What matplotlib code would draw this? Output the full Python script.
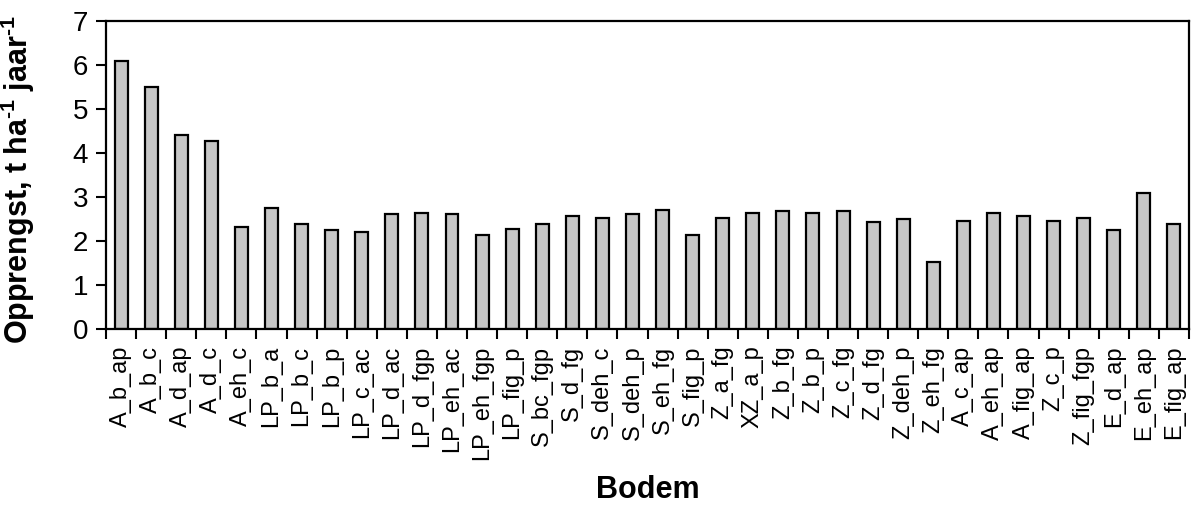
import matplotlib
matplotlib.use("Agg")
import matplotlib.pyplot as plt
import numpy as np

plt.rcParams['font.family'] = ['Liberation Sans', 'DejaVu Sans']
plt.rcParams['mathtext.fontset'] = 'custom'
plt.rcParams['mathtext.rm'] = 'Liberation Sans'
plt.rcParams['mathtext.bf'] = 'Liberation Sans:bold'

bodem = ['A_b_ap', 'A_b_c', 'A_d_ap', 'A_d_c', 'A_eh_c', 'LP_b_a', 'LP_b_c',
         'LP_b_p', 'LP_c_ac', 'LP_d_ac', 'LP_d_fgp', 'LP_eh_ac', 'LP_eh_fgp',
         'LP_fig_p', 'S_bc_fgp', 'S_d_fg', 'S_deh_c', 'S_deh_p', 'S_eh_fg',
         'S_fig_p', 'Z_a_fg', 'XZ_a_p', 'Z_b_fg', 'Z_b_p', 'Z_c_fg', 'Z_d_fg',
         'Z_deh_p', 'Z_eh_fg', 'A_c_ap', 'A_eh_ap', 'A_fig_ap', 'Z_c_p',
         'Z_fig_fgp', 'E_d_ap', 'E_eh_ap', 'E_fig_ap']
opbrengst = [6.09, 5.51, 4.42, 4.28, 2.32, 2.76, 2.39, 2.26, 2.21, 2.61,
             2.64, 2.61, 2.14, 2.28, 2.39, 2.57, 2.53, 2.61, 2.71, 2.14,
             2.53, 2.64, 2.68, 2.64, 2.68, 2.43, 2.50, 1.52, 2.46, 2.64,
             2.57, 2.46, 2.53, 2.24, 3.08, 2.39]

fig = plt.figure(figsize=(11.94, 5.08), dpi=100)
ax = fig.add_axes([0.0888, 0.3524, 0.907, 0.6063])

x = np.arange(len(bodem))
ax.bar(x, opbrengst, width=0.43, color='#c6c6c6', edgecolor='black', linewidth=1.6)

ax.set_xlim(-0.5, len(bodem) - 0.5)
ax.set_ylim(0, 7)
ax.set_yticks(range(0, 8))

# labels on the bars, tick marks between them
ax.set_xticks(x)
ax.set_xticklabels(bodem, rotation=90, fontsize=17)
ax.set_xticks(np.arange(len(bodem) + 1) - 0.5, minor=True)
ax.tick_params(axis='x', which='major', length=0, pad=12)
ax.tick_params(axis='x', which='minor', direction='out', length=7, width=1.5)
ax.tick_params(axis='y', direction='out', length=7, width=1.5, labelsize=20, pad=6)

for s in ax.spines.values():
    s.set_linewidth(1.6)

ax.set_xlabel('Bodem', fontsize=22, fontweight='bold')
ax.xaxis.set_label_coords(0.5, -0.474)
ax.set_ylabel('Opprengst, t ha$^{\\mathbf{\u20101}}$ jaar$^{\\mathbf{\u20101}}$',
              fontsize=22, fontweight='bold')
ax.yaxis.set_label_coords(-0.064, 0.485)

fig.savefig('out.png', dpi=100)
